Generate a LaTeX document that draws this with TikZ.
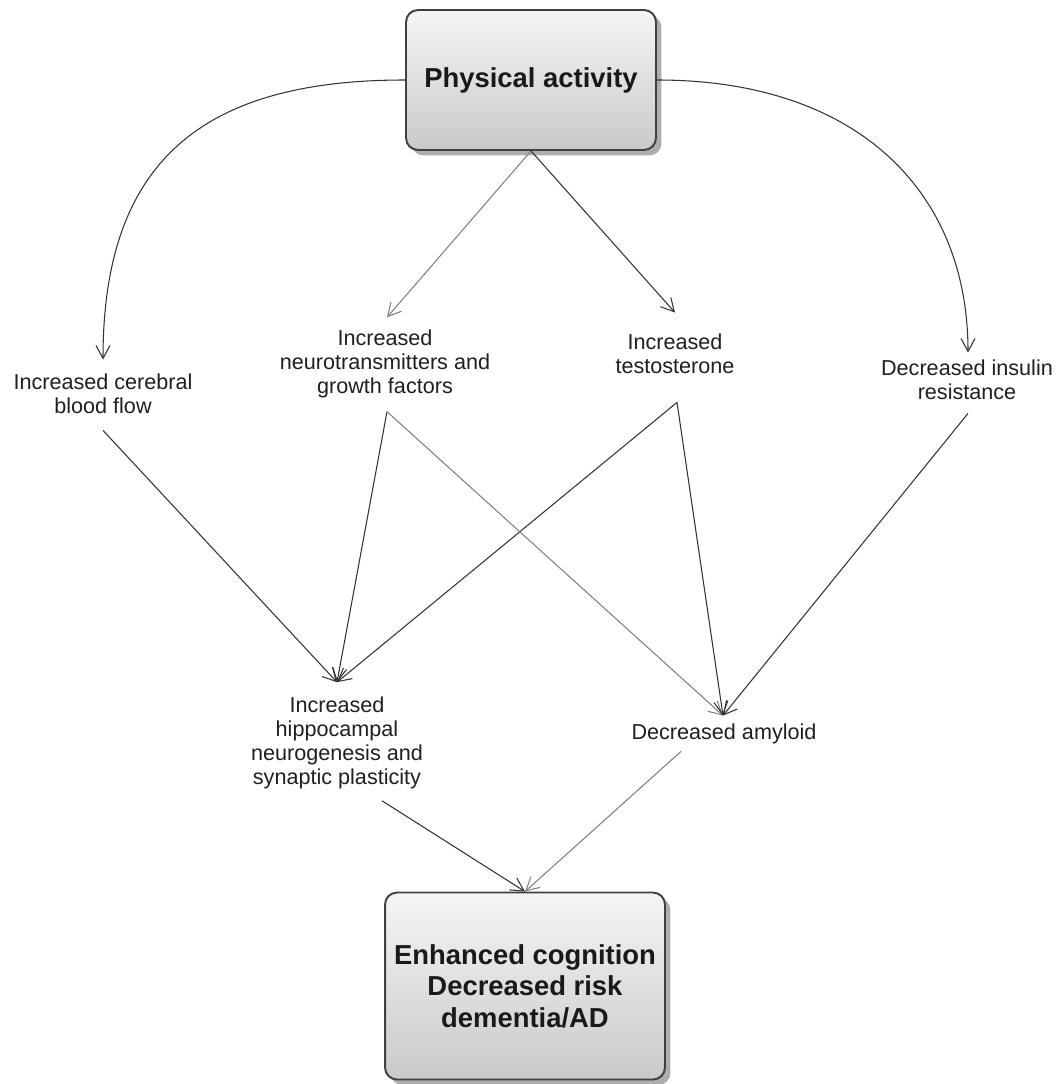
\documentclass[tikz,border=0pt]{standalone}
\usepackage{fontspec}
\setmainfont{Liberation Sans}
\usetikzlibrary{arrows.meta,calc,shadows}

\begin{document}
\begin{tikzpicture}[x=0.02cm,y=-0.02cm,
        box/.style={draw=black!75,line width=1.1pt,rounded corners=0.24cm,
            top color=black!4,bottom color=black!21,
            drop shadow={shadow xshift=0.11cm,shadow yshift=-0.11cm,fill=black!32,opacity=1},
            align=center,text=black!90,font=\bfseries\fontsize{15.6}{17.9}\selectfont},
        fact/.style={inner sep=0pt,align=center,text=black!88,font=\fontsize{12.3}{13.8}\selectfont},
        link/.style={draw=black!80,line width=0.6pt,-{Straight Barb[length=0.26cm,width=0.28cm]}},
        greylink/.style={link,draw=black!50}]
        % page frame of the reference
        \useasboundingbox (0,0) rectangle (1057,1084);

        % the two boxes
        \node[box,minimum width=5cm,minimum height=2.8cm] (pa) at (531,80) {Physical activity};
        \node[box,minimum width=5.6cm,minimum height=3.74cm] (cog) at (525,986) {Enhanced cognition\\Decreased risk\\dementia/AD};

        % first row of effects
        \node[fact] (cbf) at (103,394) {Increased cerebral\\blood flow};
        \node[fact] (nt) at (385,364) {Increased\\neurotransmitters and\\growth factors};
        \node[fact] (tes) at (675,354) {Increased\\testosterone};
        \node[fact] (ins) at (967,380) {Decreased insulin\\resistance};

        % second row
        \node[fact] (hip) at (337,743) {Increased\\hippocampal\\neurogenesis and\\synaptic plasticity};
        \node[fact] (amy) at (724,734) {Decreased amyloid};

        % from physical activity
        \draw[link] (pa.west) .. controls (206,80) and (103,158) .. ($(cbf.north)+(0,-14)$);
        \draw[link] (pa.east) .. controls (858,80) and (968,192) .. ($(ins.north)+(1,-7)$);
        \draw[greylink] (pa.south) -- ($(nt.north)+(2,-12)$);
        \draw[link] (pa.south) -- ($(tes.north)+(0,-21)$);

        % to hippocampal neurogenesis
        \draw[link] ($(cbf.south)+(0,16)$) -- ($(hip.north)+(0,-14)$);
        \draw[link] ($(nt.south)+(2,13)$) -- ($(hip.north)+(0,-14)$);
        \draw[link] ($(tes.south)+(2,28)$) -- ($(hip.north)+(0,-14)$);

        % to decreased amyloid
        \draw[greylink] ($(nt.south)+(2,13)$) -- ($(amy.north)+(-1,-8)$);
        \draw[link] ($(tes.south)+(2,28)$) -- ($(amy.north)+(-1,-8)$);
        \draw[link] ($(ins.south)+(1,13)$) -- ($(amy.north)+(-1,-8)$);

        % to cognition
        \draw[link] ($(hip.south)+(45,11)$) -- (cog.north);
        \draw[greylink] ($(amy.south)+(-43,7)$) -- (cog.north);

    \end{tikzpicture}
\end{document}
